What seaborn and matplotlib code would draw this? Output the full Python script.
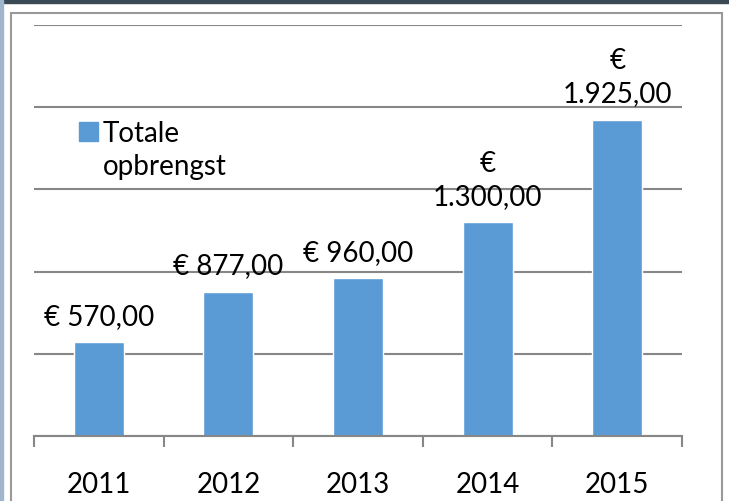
import matplotlib
matplotlib.use("Agg")
import matplotlib.pyplot as plt
from matplotlib.patches import Rectangle
import seaborn as sns

# --------------------------------------------------------------
# Data
# --------------------------------------------------------------
years = ["2011", "2012", "2013", "2014", "2015"]
revenue = [570, 877, 960, 1300, 1925]
series_name = "Totale\nopbrengst"

bar_color = "#5B9BD5"
grid_color = "#878787"


# dutch currency format, long values wrap after the euro sign (like excel does)
def euro(value):
    txt = f"{value:,.2f}".replace(",", "X").replace(".", ",").replace("X", ".")
    sep = "\n" if value >= 1000 else " "
    return "€" + sep + txt


value_labels = [euro(v) for v in revenue]

# --------------------------------------------------------------
# Plot
# --------------------------------------------------------------
sns.set_theme(style="white")
plt.rcParams["font.family"] = ["Lato", "DejaVu Sans"]

W, H = 729, 501
fig = plt.figure(figsize=(W / 100, H / 100), dpi=100)
ax = fig.add_axes([34 / W, 1 - 436 / H, (682 - 34) / W, (436 - 25) / H])

sns.barplot(x=years, y=revenue, color=bar_color, saturation=1, width=0.385, ax=ax)
ax.set_xlim(-0.5, len(years) - 0.5)
ax.set_ylim(0, 2500)

# gridlines, no y labels
ax.set_yticks(range(0, 2501, 500))
ax.yaxis.grid(True, color=grid_color, linewidth=1.5)
ax.set_axisbelow(True)
ax.tick_params(axis="y", left=False, labelleft=False)
ax.set_ylabel("")
ax.set_xlabel("")

for side in ["left", "right", "top"]:
    ax.spines[side].set_visible(False)
ax.spines["bottom"].set_color(grid_color)
ax.spines["bottom"].set_linewidth(1.5)

# category ticks between the bars
ax.set_xticks([i - 0.5 for i in range(len(years) + 1)], minor=True)
ax.tick_params(axis="x", which="minor", bottom=True, direction="out", length=8,
               width=1.5, color=grid_color)
ax.tick_params(axis="x", which="major", bottom=True, length=0, pad=26,
               labelsize=20, labelcolor="black")

ax.bar_label(ax.containers[0], labels=value_labels, padding=9, fontsize=20,
             linespacing=1.33, color="black")

# legend box top-left
fig.add_artist(Rectangle((79 / W, 1 - 141 / H), 19 / W, 19 / H,
                         transform=fig.transFigure, color=bar_color))
fig.text(103 / W, 1 - 175 / H, series_name, fontsize=20, va="baseline",
         linespacing=1.33, color="black")

# chart frame + screenshot edges
fig.add_artist(Rectangle((11 / W, -0.05), (722 - 11) / W, 1.05 - 13 / H,
                         transform=fig.transFigure, fill=False,
                         edgecolor="#999999", linewidth=1.5))
fig.add_artist(Rectangle((0, 1 - 3 / H), 1, 3 / H, transform=fig.transFigure,
                         color="#3b4955"))
fig.add_artist(Rectangle((0, 0), 3 / W, 1, transform=fig.transFigure,
                         color="#9fb6cd"))

plt.savefig("out.png", dpi=100)
